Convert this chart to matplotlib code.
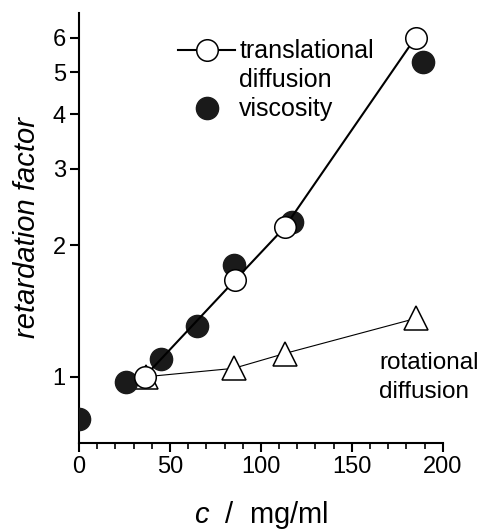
import matplotlib
matplotlib.use("Agg")
import matplotlib.pyplot as plt
from matplotlib.lines import Line2D
from matplotlib.ticker import FixedLocator, MultipleLocator, NullLocator

plt.rcParams["font.family"] = ["Liberation Sans", "DejaVu Sans"]
plt.rcParams["mathtext.fontset"] = "custom"
plt.rcParams["mathtext.it"] = "Liberation Sans:italic"
plt.rcParams["mathtext.rm"] = "Liberation Sans"

# viscosity (filled circles)
visc_c = [0, 26, 45, 65, 85, 117, 189]
visc_r = [0.80, 0.97, 1.10, 1.31, 1.80, 2.27, 5.28]

# translational diffusion (open circles, thick line)
trans_c = [36, 86, 113, 185]
trans_r = [1.00, 1.67, 2.20, 6.00]

# rotational diffusion (open triangles, thin line)
rot_c = [37, 85, 113, 185]
rot_r = [1.00, 1.045, 1.13, 1.36]

y_ticks = [1, 2, 3, 4, 5, 6]
x_ticks = [0, 50, 100, 150, 200]

fig = plt.figure(figsize=(4.85, 5.31), dpi=100)
ax = fig.add_axes([0.163, 0.166, 0.750, 0.810])

ax.plot(rot_c, rot_r, color="black", lw=0.8, marker="^", ms=17,
        mfc="white", mec="black", mew=1.1, zorder=2)
ax.plot(visc_c, visc_r, ls="none", marker="o", ms=16,
        mfc="#1a1a1a", mec="#1a1a1a", zorder=3)
ax.plot(trans_c, trans_r, color="black", lw=1.5, marker="o", ms=15.5,
        mfc="white", mec="black", mew=1.1, zorder=4)

ax.set_yscale("log")
ax.set_xlim(0, 200)
ax.set_ylim(0.705, 6.84)
ax.yaxis.set_major_locator(FixedLocator(y_ticks))
ax.yaxis.set_minor_locator(NullLocator())
ax.set_yticklabels([str(t) for t in y_ticks])
ax.xaxis.set_major_locator(FixedLocator(x_ticks))
ax.xaxis.set_minor_locator(MultipleLocator(10))

for side in ["top", "right"]:
    ax.spines[side].set_visible(False)
for side in ["left", "bottom"]:
    ax.spines[side].set_linewidth(1.5)

ax.tick_params(which="major", length=6.5, width=1.5, labelsize=17, pad=3)
ax.tick_params(which="minor", length=4, width=1.2)

ax.set_ylabel("retardation factor", fontsize=21, style="italic", labelpad=8)
ax.set_xlabel(r"$c$  /  mg/ml", fontsize=21, labelpad=15)

handles = [
    Line2D([], [], color="black", lw=1.5, marker="o", ms=15.5,
           mfc="white", mec="black", mew=1.1),
    Line2D([], [], ls="none"),
    Line2D([], [], ls="none", marker="o", ms=16,
           mfc="#1a1a1a", mec="#1a1a1a"),
]
ax.legend(handles, ["translational", "diffusion", "viscosity"],
          loc="upper left", bbox_to_anchor=(0.272, 0.938), frameon=False,
          fontsize=18, handlelength=2.3, handletextpad=0.15,
          labelspacing=0.2, borderpad=0, borderaxespad=0)

ax.text(165, 1.14, "rotational\ndiffusion", fontsize=17.5, va="top",
        ha="left", linespacing=1.42)

fig.savefig("out.png", dpi=100)
